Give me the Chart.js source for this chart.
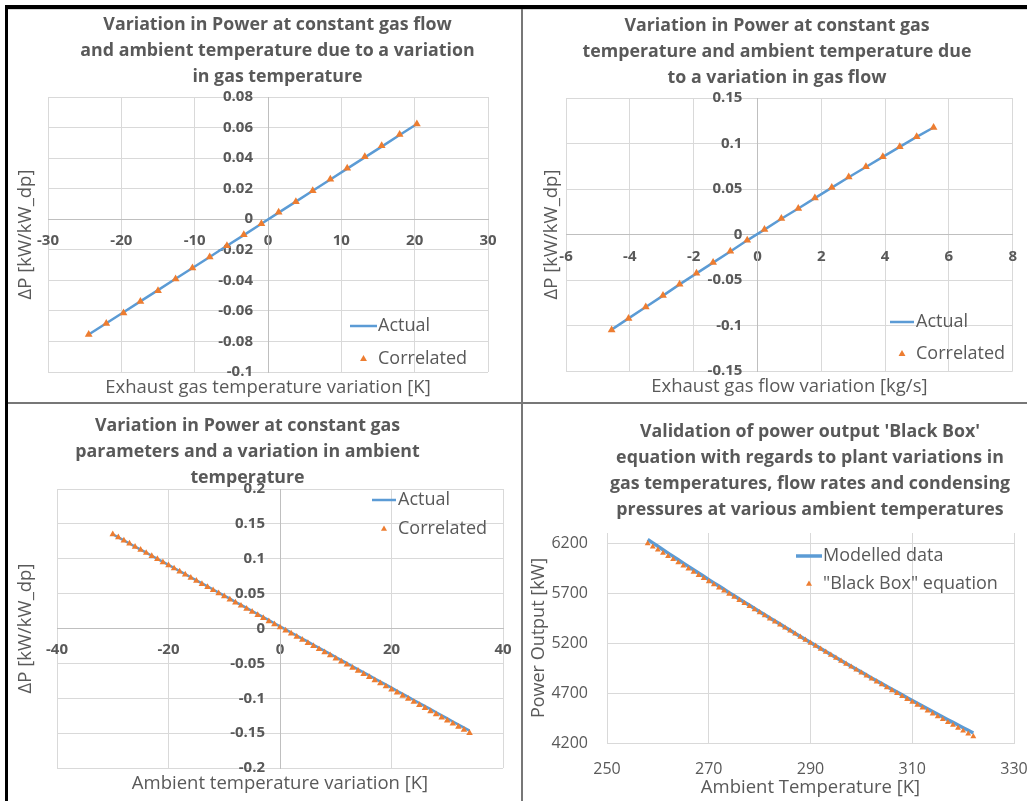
<!doctype html>
<html lang="en">
<head>
<meta charset="utf-8">
<title>Power variation charts</title>
<style>
  * { margin: 0; padding: 0; }
  body { width: 1027px; height: 801px; background: #fff; position: relative; overflow: hidden; }
  .cell { position: absolute; overflow: hidden; }
  .cell canvas { position: absolute; }
  .rule { position: absolute; z-index: 5; }
</style>
</head>
<body>
<div class="cell" style="left:8px;top:9px;width:513px;height:393px">
  <canvas id="c1" width="539" height="394" style="left:0;top:0"></canvas>
</div>
<div class="cell" style="left:523px;top:9px;width:504px;height:393px">
  <canvas id="c2" width="506" height="394" style="left:1px;top:0"></canvas>
</div>
<div class="cell" style="left:8px;top:404px;width:513px;height:397px">
  <canvas id="c3" width="555" height="396" style="left:-38px;top:1px"></canvas>
</div>
<div class="cell" style="left:523px;top:404px;width:504px;height:397px">
  <canvas id="c4" width="572" height="396" style="left:1px;top:1px"></canvas>
</div>
<div class="rule" style="left:5px;top:5px;width:1022px;height:4px;background:#000"></div>
<div class="rule" style="left:5px;top:5px;width:3px;height:796px;background:#000"></div>
<div class="rule" style="left:8px;top:9px;width:1019px;height:1px;background:#d6d6d6"></div>
<div class="rule" style="left:521px;top:9px;width:2px;height:792px;background:#777"></div>
<div class="rule" style="left:8px;top:402px;width:1019px;height:2px;background:#777"></div>

<script src="https://cdn.jsdelivr.net/npm/chart.js"></script>
<script>
// chart 1: gas temperature variation
const gasTemp = [-24.45, -22.05, -19.7, -17.4, -15.0, -12.6, -10.3, -7.95, -5.6, -3.3,
  -0.9, 1.45, 3.8, 6.1, 8.5, 10.8, 13.2, 15.5, 17.95, 20.3]
const gasTempActual = [-0.0755, -0.0681, -0.0609, -0.0538, -0.0464, -0.0390, -0.0319, -0.0247, -0.0174, -0.0104,
  -0.0030, 0.0043, 0.0115, 0.0186, 0.0260, 0.0331, 0.0405, 0.0475, 0.0551, 0.0623]
const gasTempCorr = [-0.0755, -0.0683, -0.0614, -0.0538, -0.0468, -0.0392, -0.0320, -0.0248, -0.0174, -0.0102,
  -0.0030, 0.0046, 0.0115, 0.0187, 0.0261, 0.0333, 0.0409, 0.0481, 0.0555, 0.0623]
const xTicks1 = [-30, -20, -10, 0, 10, 20, 30]
const yTicks1 = [-0.1, -0.08, -0.06, -0.04, -0.02, 0, 0.02, 0.04, 0.06, 0.08]

// chart 2: gas flow variation
const gasFlow = [-4.57, -4.04, -3.5, -2.96, -2.44, -1.91, -1.39, -0.85, -0.32, 0.22,
  0.75, 1.28, 1.8, 2.33, 2.86, 3.4, 3.93, 4.46, 4.99, 5.52]
const gasFlowActual = [-0.1045, -0.0922, -0.0797, -0.0672, -0.0548, -0.0427, -0.0309, -0.0186, -0.0064, 0.0053,
  0.0173, 0.0286, 0.0400, 0.0515, 0.0629, 0.0742, 0.0853, 0.0963, 0.1072, 0.1176]
const gasFlowCorr = [-0.1049, -0.0924, -0.0796, -0.0671, -0.0546, -0.0425, -0.0308, -0.0183, -0.0062, 0.0055,
  0.0176, 0.0286, 0.0400, 0.0517, 0.0631, 0.0744, 0.0854, 0.0964, 0.1074, 0.1177]
const xTicks2 = [-6, -4, -2, 0, 2, 4, 6, 8]
const yTicks2 = [-0.15, -0.1, -0.05, 0, 0.05, 0.1, 0.15]

// chart 3: ambient temperature variation
const ambVar = [-30, -29, -28, -27, -26, -25, -24, -23, -22, -21, -20, -19, -18, -17, -16, -15, -14, -13, -12, -11,
  -10, -9, -8, -7, -6, -5, -4, -3, -2, -1, 0, 1, 2, 3, 4, 5, 6, 7, 8, 9,
  10, 11, 12, 13, 14, 15, 16, 17, 18, 19, 20, 21, 22, 23, 24, 25, 26, 27, 28, 29,
  30, 31, 32, 33, 34]
const ambActual = [0.1351, 0.1307, 0.1263, 0.1219, 0.1175, 0.1131, 0.1087, 0.1043, 0.0999, 0.0955,
  0.0911, 0.0867, 0.0823, 0.0779, 0.0735, 0.0691, 0.0647, 0.0603, 0.0559, 0.0515,
  0.0471, 0.0427, 0.0383, 0.0339, 0.0295, 0.0251, 0.0207, 0.0163, 0.0119, 0.0075,
  0.0031, -0.0013, -0.0057, -0.0101, -0.0145, -0.0189, -0.0233, -0.0277, -0.0321, -0.0365,
  -0.0409, -0.0453, -0.0497, -0.0541, -0.0585, -0.0629, -0.0673, -0.0717, -0.0761, -0.0805,
  -0.0849, -0.0893, -0.0937, -0.0981, -0.1025, -0.1069, -0.1113, -0.1157, -0.1201, -0.1245,
  -0.1289, -0.1333, -0.1377, -0.1421, -0.1465]
const ambCorr = [0.1350, 0.1306, 0.1261, 0.1217, 0.1172, 0.1128, 0.1083, 0.1039, 0.0994, 0.0950,
  0.0905, 0.0861, 0.0816, 0.0772, 0.0727, 0.0683, 0.0638, 0.0594, 0.0549, 0.0505,
  0.0460, 0.0416, 0.0371, 0.0327, 0.0282, 0.0238, 0.0193, 0.0149, 0.0104, 0.0060,
  0.0015, -0.0030, -0.0074, -0.0119, -0.0163, -0.0208, -0.0252, -0.0297, -0.0341, -0.0386,
  -0.0430, -0.0475, -0.0519, -0.0564, -0.0608, -0.0653, -0.0697, -0.0742, -0.0786, -0.0831,
  -0.0875, -0.0920, -0.0964, -0.1009, -0.1053, -0.1098, -0.1142, -0.1187, -0.1231, -0.1276,
  -0.1320, -0.1365, -0.1409, -0.1454, -0.1498]
const xTicks3 = [-40, -20, 0, 20, 40]
const yTicks3 = [-0.2, -0.15, -0.1, -0.05, 0, 0.05, 0.1, 0.15, 0.2]

// chart 4: black box validation
const ambTemp = [258, 259, 260, 261, 262, 263, 264, 265, 266, 267, 268, 269, 270, 271, 272, 273, 274, 275, 276, 277,
  278, 279, 280, 281, 282, 283, 284, 285, 286, 287, 288, 289, 290, 291, 292, 293, 294, 295, 296, 297,
  298, 299, 300, 301, 302, 303, 304, 305, 306, 307, 308, 309, 310, 311, 312, 313, 314, 315, 316, 317,
  318, 319, 320, 321, 322]
const modelled = [6235, 6201, 6167, 6133, 6099, 6066, 6032, 5999, 5966, 5933,
  5900, 5867, 5834, 5801, 5769, 5737, 5704, 5672, 5640, 5608,
  5577, 5545, 5513, 5482, 5451, 5420, 5389, 5358, 5327, 5296,
  5266, 5235, 5205, 5175, 5145, 5115, 5085, 5055, 5026, 4996,
  4967, 4938, 4909, 4880, 4851, 4822, 4794, 4765, 4737, 4709,
  4681, 4653, 4625, 4597, 4569, 4542, 4515, 4487, 4460, 4433,
  4406, 4380, 4353, 4327, 4300]
const blackBox = [6195, 6163, 6131, 6099, 6068, 6036, 6004, 5972, 5941, 5909,
  5878, 5846, 5815, 5784, 5752, 5721, 5690, 5659, 5628, 5597,
  5566, 5535, 5505, 5474, 5443, 5413, 5382, 5352, 5321, 5291,
  5260, 5230, 5200, 5170, 5140, 5110, 5080, 5050, 5020, 4990,
  4961, 4931, 4901, 4872, 4842, 4813, 4784, 4754, 4725, 4696,
  4667, 4638, 4609, 4580, 4551, 4522, 4493, 4464, 4436, 4407,
  4379, 4350, 4322, 4293, 4265]
const xTicks4 = [250, 270, 290, 310, 330]
const yTicks4 = [4200, 4700, 5200, 5700, 6200]

const FONT = "'Open Sans', sans-serif"
const TEXT = '#595959'
const GRID = '#d9d9d9'
const AXIS = '#bfbfbf'
const BLUE = '#5b9bd5'
const ORANGE = '#ed7d31'
const TITLE_SIZE = 17.8
const AXIS_TITLE_SIZE = 18.5

Chart.defaults.font.family = FONT
Chart.defaults.color = TEXT

const zip = (xs, ys) => xs.map((x, i) => ({x: x, y: ys[i]}))
const setTicks = values => scale => { scale.ticks = values.map(v => ({value: v})) }

// legend drawn inside the plot area, like the Excel charts
const insideLegend = {
  id: 'insideLegend',
  afterDatasetsDraw(chart, args, opts) {
    const ctx = chart.ctx
    ctx.save()
    ctx.font = opts.labelFont
    ctx.fillStyle = TEXT
    ctx.textBaseline = 'middle'
    chart.data.datasets.forEach((ds, i) => {
      const y = opts.y + i * opts.rowGap
      const cx = opts.x + opts.lineLen / 2
      if (ds.showLine) {
        ctx.strokeStyle = ds.borderColor
        ctx.lineWidth = ds.borderWidth
        ctx.beginPath()
        ctx.moveTo(opts.x, y)
        ctx.lineTo(opts.x + opts.lineLen, y)
        ctx.stroke()
      } else {
        const r = opts.marker
        ctx.fillStyle = ds.backgroundColor
        ctx.beginPath()
        ctx.moveTo(cx, y - r)
        ctx.lineTo(cx + r * 0.866, y + r / 2)
        ctx.lineTo(cx - r * 0.866, y + r / 2)
        ctx.closePath()
        ctx.fill()
        ctx.fillStyle = TEXT
      }
      ctx.fillText(ds.label, opts.x + opts.lineLen + opts.gap, y)
    })
    ctx.restore()
  }
}

const hiddenAxis = (position, fit, title) => ({
  type: 'linear',
  axis: position === 'bottom' ? 'x' : 'y',
  position: position,
  grid: {display: false},
  border: {display: false},
  ticks: {display: false},
  afterFit: fit,
  title: title || {display: false}
})

function crossedChart(id, s) {
  const tickFont = {family: FONT, size: 15, weight: 'bold'}
  const axisTitleFont = {family: FONT, size: AXIS_TITLE_SIZE, lineHeight: 20 / AXIS_TITLE_SIZE}
  return new Chart(document.getElementById(id), {
    type: 'scatter',
    data: {
      datasets: [
        {label: 'Actual', data: zip(s.xs, s.actual), showLine: true, borderColor: BLUE,
          borderWidth: 2.5, pointRadius: 0, order: 1, xAxisID: 'x', yAxisID: 'y'},
        {label: 'Correlated', data: zip(s.xs, s.corr), pointStyle: 'triangle', pointRadius: s.marker,
          backgroundColor: ORANGE, borderColor: ORANGE, borderWidth: 0, order: 0, xAxisID: 'x', yAxisID: 'y'}
      ]
    },
    options: {
      responsive: false,
      animation: false,
      events: [],
      layout: {padding: 0, autoPadding: false},
      plugins: {
        legend: {display: false},
        tooltip: {enabled: false},
        title: {
          display: true, text: s.title, color: TEXT,
          font: {family: FONT, size: TITLE_SIZE, weight: 'bold', lineHeight: 26 / TITLE_SIZE},
          padding: {top: s.titleTop, bottom: s.titleBottom}
        },
        insideLegend: s.legend
      },
      scales: {
        x: {
          type: 'linear', min: s.xTicks[0], max: s.xTicks[s.xTicks.length - 1],
          position: {y: 0},
          afterBuildTicks: setTicks(s.xTicks),
          afterFit: sc => { sc.height = 0 },
          grid: {color: GRID, drawTicks: false},
          border: {color: AXIS},
          ticks: {font: tickFont, color: TEXT, padding: s.xTickPad, maxRotation: 0, autoSkip: false,
            callback: v => String(v)}
        },
        y: {
          type: 'linear', min: s.yTicks[0], max: s.yTicks[s.yTicks.length - 1],
          position: {x: 0},
          afterBuildTicks: setTicks(s.yTicks),
          afterFit: sc => { sc.width = 0 },
          grid: {color: GRID, drawTicks: false},
          border: {color: AXIS},
          ticks: {font: tickFont, color: TEXT, padding: 0, autoSkip: false,
            callback: v => String(v) + '\u2002\u2002'}
        },
        xTitle: hiddenAxis('bottom', sc => { sc.height = s.bottom }, {
          display: true, text: s.xTitle, color: TEXT, font: axisTitleFont, padding: {top: 0, bottom: s.xTitlePad}
        }),
        yTitle: hiddenAxis('left', sc => { sc.width = s.left }, {
          display: true, text: s.yTitle, color: TEXT, font: axisTitleFont, padding: {top: s.yTitlePad, bottom: 0}
        }),
        yRight: hiddenAxis('right', sc => { sc.width = s.right })
      }
    },
    plugins: [insideLegend]
  })
}

crossedChart('c1', {
  xs: gasTemp, actual: gasTempActual, corr: gasTempCorr, xTicks: xTicks1, yTicks: yTicks1, marker: 4.5,
  title: ['Variation in Power at constant gas flow', 'and ambient temperature due to a variation', 'in gas temperature'],
  titleTop: 3, titleBottom: 7,
  xTitle: 'Exhaust gas temperature variation [K]', yTitle: '\u0394P [kW/kW_dp]',
  left: 40, right: 59, bottom: 31, xTitlePad: 5, yTitlePad: 8, xTickPad: 13,
  legend: {x: 342, y: 317, rowGap: 33, lineLen: 27, gap: 1, marker: 4, labelFont: "18px 'Open Sans'"}
})

crossedChart('c2', {
  xs: gasFlow, actual: gasFlowActual, corr: gasFlowCorr, xTicks: xTicks2, yTicks: yTicks2, marker: 4.5,
  title: ['Variation in Power at constant gas', 'temperature and ambient temperature due', 'to a variation in gas flow'],
  titleTop: 3.5, titleBottom: 7.5,
  xTitle: 'Exhaust gas flow variation [kg/s]', yTitle: '\u0394P [kW/kW_dp]',
  left: 42, right: 11, bottom: 32, xTitlePad: 6.3, yTitlePad: 18, xTickPad: 13,
  legend: {x: 366, y: 313, rowGap: 32, lineLen: 24, gap: 2, marker: 4, labelFont: "18px 'Open Sans'"}
})

crossedChart('c3', {
  xs: ambVar, actual: ambActual, corr: ambCorr, xTicks: xTicks3, yTicks: yTicks3, marker: 3.8,
  title: ['Variation in Power at constant gas', 'parameters and a variation in ambient', 'temperature'],
  titleTop: 7.7, titleBottom: -1.7,
  xTitle: 'Ambient temperature variation [K]', yTitle: '\u0394P [kW/kW_dp]',
  left: 87, right: 22, bottom: 33, xTitlePad: 7.7, yTitlePad: 46, xTickPad: 12,
  legend: {x: 402, y: 95, rowGap: 29, lineLen: 24, gap: 2, marker: 3.5, labelFont: "18px 'Open Sans'"}
})

// chart 4 uses ordinary left/bottom axes
new Chart(document.getElementById('c4'), {
  type: 'scatter',
  data: {
    datasets: [
      {label: 'Modelled data', data: zip(ambTemp, modelled), showLine: true, borderColor: BLUE,
        borderWidth: 3.5, pointRadius: 0, order: 1},
      {label: '"Black Box" equation', data: zip(ambTemp, blackBox), pointStyle: 'triangle', pointRadius: 3.4,
        backgroundColor: ORANGE, borderColor: ORANGE, borderWidth: 0, order: 0}
    ]
  },
  options: {
    responsive: false,
    animation: false,
    events: [],
    layout: {padding: 0, autoPadding: false},
    plugins: {
      legend: {display: false},
      tooltip: {enabled: false},
      title: {
        display: true, color: TEXT,
        text: ["Validation of power output 'Black Box'", 'equation with regards to plant variations in',
          'gas temperatures, flow rates and condensing', 'pressures at various ambient temperatures'],
        font: {family: FONT, size: TITLE_SIZE, weight: 'bold', lineHeight: 26 / TITLE_SIZE},
        padding: {top: 14.3, bottom: 9.7}
      },
      insideLegend: {x: 272, y: 151, rowGap: 28, lineLen: 26, gap: 1, marker: 3.5, labelFont: "18px 'Open Sans'"}
    },
    scales: {
      x: {
        type: 'linear', min: 250, max: 330, position: 'bottom',
        afterBuildTicks: setTicks(xTicks4),
        afterFit: sc => { sc.height = 58 },
        grid: {color: GRID, drawTicks: false},
        border: {color: GRID},
        ticks: {font: {size: 16}, color: TEXT, padding: 17, maxRotation: 0, autoSkip: false, callback: v => String(v)},
        title: {display: true, text: 'Ambient Temperature [K]', color: TEXT,
          font: {size: AXIS_TITLE_SIZE, lineHeight: 20 / AXIS_TITLE_SIZE}, padding: {top: 0, bottom: 3}}
      },
      y: {
        type: 'linear', min: 4200, max: 6300, position: 'left',
        afterBuildTicks: setTicks(yTicks4),
        afterFit: sc => { sc.width = 83 },
        grid: {color: GRID, drawTicks: false},
        border: {color: GRID},
        ticks: {font: {size: 16}, color: TEXT, padding: 19, autoSkip: false, callback: v => String(v)},
        title: {display: true, text: 'Power Output [kW]', color: TEXT,
          font: {size: 18, lineHeight: 20 / 18}, padding: {top: 5, bottom: 0}}
      },
      yRight: hiddenAxis('right', sc => { sc.width = 82 })
    }
  },
  plugins: [insideLegend]
})
</script>
</body>
</html>
